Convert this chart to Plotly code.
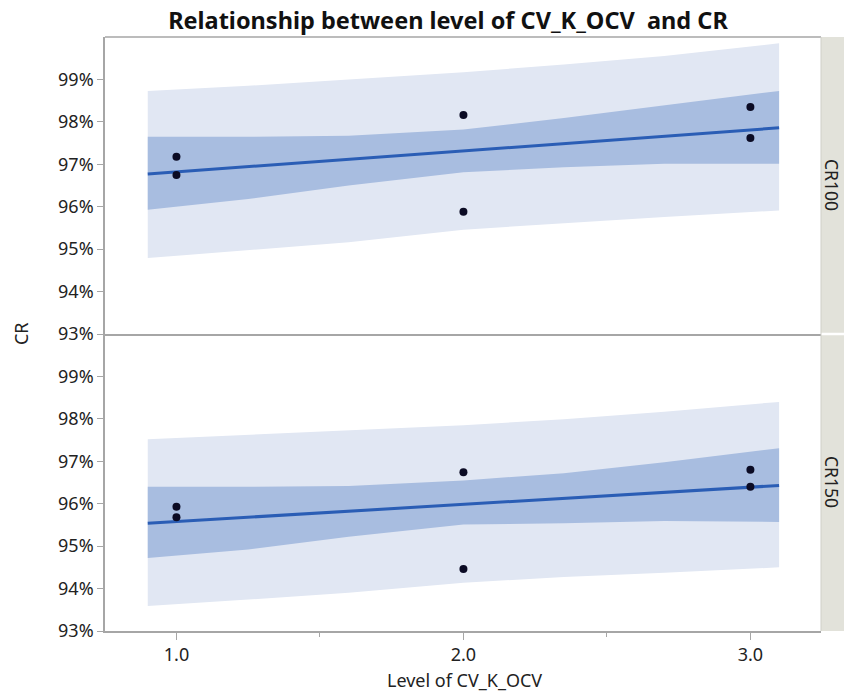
import plotly.graph_objects as go
from plotly.subplots import make_subplots

# ---- data (CR in %) ----
panels = ["CR100", "CR150"]
level_x = [1, 1, 2, 2, 3, 3]
cr100_pts = [97.18, 96.75, 98.16, 95.88, 98.35, 97.62]
cr150_pts = [95.93, 95.68, 96.74, 94.46, 96.80, 96.40]

band_x = [0.9, 1.25, 1.6, 2.0, 2.35, 2.7, 3.1]
cr100_pi_hi = [98.73, 98.85, 99.00, 99.17, 99.35, 99.55, 99.85]
cr100_ci_hi = [97.65, 97.65, 97.67, 97.82, 98.09, 98.39, 98.73]
cr100_ci_lo = [95.93, 96.18, 96.50, 96.81, 96.93, 97.01, 97.01]
cr100_pi_lo = [94.79, 94.98, 95.16, 95.46, 95.61, 95.76, 95.91]

cr150_pi_hi = [97.52, 97.62, 97.72, 97.85, 97.99, 98.17, 98.40]
cr150_ci_hi = [96.40, 96.40, 96.42, 96.55, 96.72, 96.98, 97.31]
cr150_ci_lo = [94.72, 94.92, 95.22, 95.51, 95.54, 95.59, 95.57]
cr150_pi_lo = [93.59, 93.74, 93.90, 94.14, 94.27, 94.37, 94.50]

fit_x = [0.9, 3.1]
cr100_fit = [96.77, 97.86]
cr150_fit = [95.54, 96.43]

y_ticks = [93, 94, 95, 96, 97, 98, 99]
y_ticklabels = ["93%", "94%", "95%", "96%", "97%", "98%", "99%"]
x_ticks = [1, 2, 3]
x_ticklabels = ["1.0", "2.0", "3.0"]

LIGHT = "#e1e7f3"
DARK = "#a8bde0"
LINE = "#2a5db5"
AXIS = "#a6a6a6"
STRIP = "#e2e2da"
FONT = "Noto Sans"
TXT = "#222"

W, H = 844, 693
ML, MR, MT, MB = 104.5, 23.4, 37, 62
PW = W - ML - MR
PH = H - MT - MB

fig = make_subplots(rows=2, cols=1, shared_xaxes=True, vertical_spacing=0)

data = [
    (cr100_pts, cr100_pi_hi, cr100_ci_hi, cr100_ci_lo, cr100_pi_lo, cr100_fit),
    (cr150_pts, cr150_pi_hi, cr150_ci_hi, cr150_ci_lo, cr150_pi_lo, cr150_fit),
]

for i, (pts, pih, cih, cil, pil, fit) in enumerate(data, start=1):
    fig.add_trace(go.Scatter(x=band_x + band_x[::-1], y=pih + pil[::-1], fill="toself",
                             fillcolor=LIGHT, line=dict(width=0), mode="lines",
                             hoverinfo="skip", showlegend=False), row=i, col=1)
    fig.add_trace(go.Scatter(x=band_x + band_x[::-1], y=cih + cil[::-1], fill="toself",
                             fillcolor=DARK, line=dict(width=0), mode="lines",
                             hoverinfo="skip", showlegend=False), row=i, col=1)
    fig.add_trace(go.Scatter(x=fit_x, y=fit, mode="lines", line=dict(color=LINE, width=3),
                             showlegend=False), row=i, col=1)
    fig.add_trace(go.Scatter(x=level_x, y=pts, mode="markers",
                             marker=dict(color="#0b0b24", size=8), showlegend=False), row=i, col=1)

for i in (1, 2):
    fig.update_yaxes(range=[93, 100], tickvals=y_ticks, ticktext=y_ticklabels, ticks="outside",
                     ticklen=6, tickcolor=AXIS, showgrid=False, zeroline=False,
                     showline=True, linecolor=AXIS, linewidth=1.5, mirror=False,
                     automargin=False,
                     tickfont=dict(size=18, color=TXT), row=i, col=1)
    fig.update_xaxes(range=[0.751, 3.246], tickvals=x_ticks, ticktext=x_ticklabels,
                     showgrid=False, zeroline=False, showline=True, linecolor=AXIS,
                     linewidth=1.5, automargin=False, row=i, col=1)

fig.update_xaxes(ticks="outside", ticklen=7, tickcolor=AXIS,
                 minor=dict(tickvals=[1.5, 2.5], ticks="outside", ticklen=4, tickcolor=AXIS),
                 tickfont=dict(size=18, color=TXT),
                 row=2, col=1)
fig.update_xaxes(showticklabels=False, ticks="", row=1, col=1)

# top border line of upper panel
fig.add_shape(type="line", xref="paper", yref="paper", x0=0, x1=1, y0=1, y1=1,
              line=dict(color=AXIS, width=1.5))

# strips
sw = 30 / PW
fig.add_shape(type="rect", xref="paper", yref="paper", x0=1.0, x1=1 + sw, y0=0.502, y1=1.0,
              fillcolor=STRIP, line=dict(width=0), layer="below")
fig.add_shape(type="rect", xref="paper", yref="paper", x0=1.0, x1=1 + sw, y0=0.0, y1=0.498,
              fillcolor=STRIP, line=dict(width=0), layer="below")
fig.add_shape(type="line", xref="paper", yref="paper", x0=1.0, x1=1.0, y0=0, y1=1,
              line=dict(color="#cfcfc8", width=1))
for name, yc in zip(panels, [0.75, 0.25]):
    fig.add_annotation(text=name, xref="paper", yref="paper", x=1 + 11.5 / PW, y=yc,
                       textangle=90, showarrow=False, xanchor="center", yanchor="middle",
                       font=dict(size=17.5, color=TXT))

fig.add_annotation(text="CR", xref="paper", yref="paper", x=-84 / PW, y=0.5,
                   textangle=-90, showarrow=False, xanchor="center", yanchor="middle",
                   font=dict(size=18, color=TXT))

# x-axis title
fig.add_annotation(text="Level of CV_K_OCV", xref="paper", yref="paper",
                   x=(464 - ML) / PW, y=-(680 - (H - MB)) / PH,
                   showarrow=False, xanchor="center", yanchor="middle",
                   font=dict(size=18, color=TXT))

fig.update_layout(
    width=W, height=H,
    margin=dict(l=ML, r=MR, t=MT, b=MB, autoexpand=False),
    plot_bgcolor="white", paper_bgcolor="white",
    font=dict(family=FONT),
    title=dict(text="<b>Relationship between level of CV_K_OCV\u00a0 and CR</b>",
               x=448 / W, xanchor="center", y=1 - 20.5 / H, yanchor="middle",
               font=dict(size=23.5, color="#111")),
    showlegend=False,
)

fig.write_html("out.html")
